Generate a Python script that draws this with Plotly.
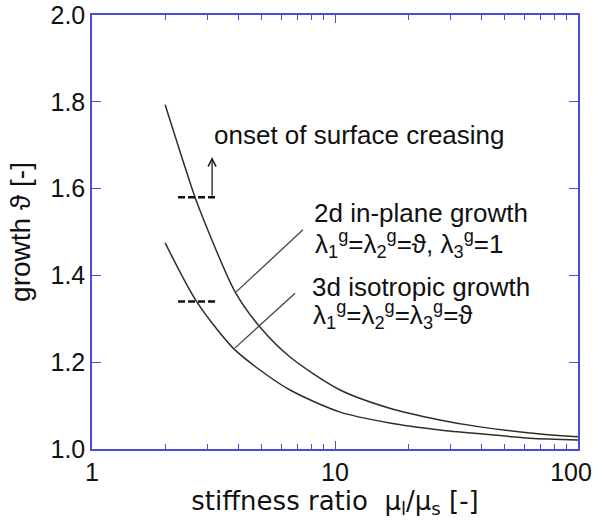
import numpy as np
import plotly.graph_objects as go

# ---- data ----
ratio_2d = [2.0, 2.65, 2.92, 3.88, 4.91, 6.53, 10.5, 16.8, 27.0, 39.5, 63.4, 100.0]
growth_2d = [1.793, 1.581, 1.52, 1.362, 1.281, 1.212, 1.136, 1.094, 1.067, 1.051, 1.037, 1.028]

ratio_3d = [2.0, 2.70, 3.80, 4.91, 6.53, 10.5, 16.8, 27.0, 39.5, 63.4, 100.0]
growth_3d = [1.475, 1.339, 1.233, 1.182, 1.136, 1.085, 1.060, 1.044, 1.035, 1.025, 1.021]

onset_x = [2.26, 3.27]
onset_2d = 1.58
onset_3d = 1.34

leader_2d_x = [3.92, 7.38]
leader_2d_y = [1.362, 1.505]
leader_3d_x = [3.88, 6.85]
leader_3d_y = [1.233, 1.359]

arrow_x = 3.12
arrow_y = [1.58, 1.673]

x_major = [1, 10, 100]
x_major_text = ["1", "10", "100&nbsp;&nbsp;"]
x_minor = [2, 3, 4, 5, 6, 7, 8, 9, 20, 30, 40, 50, 60, 70, 80, 90]
y_ticks = [1.0, 1.2, 1.4, 1.6, 1.8, 2.0]

AX = "#4b4bd6"
CURVE = "#2e2e2e"
FONT = "Liberation Sans, Arial, sans-serif"

fig = go.Figure()
fig.add_trace(go.Scatter(x=ratio_2d, y=growth_2d, mode="lines",
                         line=dict(color=CURVE, width=1.5, shape="spline", smoothing=0.8),
                         showlegend=False, hoverinfo="skip"))
fig.add_trace(go.Scatter(x=ratio_3d, y=growth_3d, mode="lines",
                         line=dict(color=CURVE, width=1.5, shape="spline", smoothing=0.8),
                         showlegend=False, hoverinfo="skip"))
for yv in (onset_2d, onset_3d):
    fig.add_trace(go.Scatter(x=onset_x, y=[yv, yv], mode="lines",
                             line=dict(color="#111", width=2.5, dash="7px,3px"),
                             showlegend=False, hoverinfo="skip"))
fig.add_trace(go.Scatter(x=leader_2d_x, y=leader_2d_y, mode="lines",
                         line=dict(color="#444", width=1.3), showlegend=False, hoverinfo="skip"))
fig.add_trace(go.Scatter(x=leader_3d_x, y=leader_3d_y, mode="lines",
                         line=dict(color="#444", width=1.3), showlegend=False, hoverinfo="skip"))

fig.add_annotation(x=np.log10(arrow_x), y=arrow_y[1], ax=np.log10(arrow_x), ay=arrow_y[0],
                   xref="x", yref="y", axref="x", ayref="y", text="", showarrow=True,
                   arrowhead=5, arrowsize=1.2, arrowwidth=1.3, arrowcolor="#222")

tf = dict(family=FONT, size=26, color="#111")
fig.add_annotation(x=np.log10(3.12), y=1.724, xref="x", yref="y", xanchor="left", yanchor="middle",
                   text="onset of surface creasing", showarrow=False, font=tf)
fig.add_annotation(x=np.log10(8.04), y=1.544, xref="x", yref="y", xanchor="left", yanchor="middle",
                   text="2d in-plane growth", showarrow=False, font=tf)
fig.add_annotation(x=np.log10(8.1), y=1.472, xref="x", yref="y", xanchor="left", yanchor="middle",
                   text="λ<sub>1</sub><sup>g</sup>=λ<sub>2</sub><sup>g</sup>=ϑ, λ<sub>3</sub><sup>g</sup>=1",
                   showarrow=False, font=tf)
fig.add_annotation(x=np.log10(7.9), y=1.373, xref="x", yref="y", xanchor="left", yanchor="middle",
                   text="3d isotropic growth", showarrow=False, font=tf)
fig.add_annotation(x=np.log10(8.0), y=1.309, xref="x", yref="y", xanchor="left", yanchor="middle",
                   text="λ<sub>1</sub><sup>g</sup>=λ<sub>2</sub><sup>g</sup>=λ<sub>3</sub><sup>g</sup>=ϑ",
                   showarrow=False, font=tf)

fig.update_xaxes(type="log", range=[0, 2], tickvals=x_major, ticktext=x_major_text,
                 ticks="inside", ticklen=8, tickwidth=1.2, tickcolor=AX,
                 minor=dict(tickvals=x_minor, ticks="inside", ticklen=5, tickwidth=1.2, tickcolor=AX),
                 showline=True, linecolor=AX, linewidth=1.5, mirror="ticks",
                 showgrid=False, zeroline=False, automargin=False, ticklabeloverflow="allow",
                 tickfont=dict(family=FONT, size=25, color="#111"),
                 title=dict(text="stiffness ratio  μ<sub>l</sub>/μ<sub>s</sub> [-]", standoff=0,
                            font=dict(family="DejaVu Sans, sans-serif", size=26, color="#111")))
fig.update_yaxes(range=[1.0, 2.0], tickvals=y_ticks, ticktext=[f"{v:.1f}" for v in y_ticks],
                 ticks="inside", ticklen=9, tickwidth=1.2, tickcolor=AX,
                 showline=True, linecolor=AX, linewidth=1.5, mirror="ticks",
                 showgrid=False, zeroline=False, automargin=False, ticklabeloverflow="allow",
                 tickfont=dict(family=FONT, size=25, color="#111"),
                 title=dict(text="growth ϑ [-]", standoff=12,
                            font=dict(family=FONT, size=28, color="#111")))

fig.update_layout(width=602, height=520, margin=dict(l=92, r=24, t=15, b=71, autoexpand=False),
                  plot_bgcolor="white", paper_bgcolor="white", showlegend=False)

# remove the default 8px page margin so the figure fills the window exactly
fig.write_html("out.html", config={"displayModeBar": False},
               post_script="document.body.style.margin='0';")
